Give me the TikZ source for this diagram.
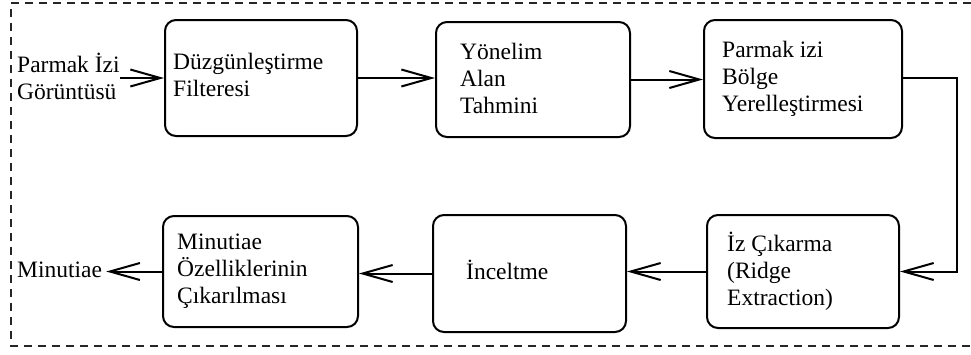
\documentclass[tikz,border=0pt]{standalone}
\usepackage{fontspec}
\newfontfamily\tnr{Liberation Serif}
\usetikzlibrary{arrows.meta}
\begin{document}
\begin{tikzpicture}[x=1pt,y=-1pt,
  box/.style={draw, line width=2pt, rounded corners=11pt, inner sep=0pt},
  txt/.style={anchor=west, align=left, inner sep=0pt, font=\tnr\fontsize{23.5}{27}\selectfont},
  arr/.style={line width=2pt, -{Straight Barb[length=30pt,width=17pt,line width=2pt]}},
  frame/.style={line width=2pt, dash pattern=on 8pt off 6pt, black!85}
]
\useasboundingbox (0,0) rectangle (971,354);
% dashed frame (open at right)
\draw[frame] (971,3) -- (11,3) -- (11,346) -- (971,346);
% boxes
\node[box, minimum width=192pt, minimum height=116pt] (b1) at (261,78) {};
\node[box, minimum width=194pt, minimum height=115pt] (b2) at (533,79.5) {};
\node[box, minimum width=198pt, minimum height=118pt] (b3) at (803,79) {};
\node[box, minimum width=195pt, minimum height=111pt] (b4) at (260.5,271.5) {};
\node[box, minimum width=193pt, minimum height=117pt] (b5) at (529.5,273.5) {};
\node[box, minimum width=192pt, minimum height=113pt] (b6) at (803,271.5) {};
% texts
\node[txt] (t1) at (173,75) {Düzgünleştirme\\Filteresi};
\node[txt] (t2) at (460,78) {Yönelim\\Alan\\Tahmini};
\node[txt] (t3) at (722,79) {Parmak izi\\Bölge\\Yerelleştirmesi};
\node[txt] (t4) at (177,271) {Minutiae\\Özelliklerinin\\Çıkarılması};
\node[txt] (t5) at (466,270) {İnceltme};
\node[txt] (t6) at (727,271) {İz Çıkarma\\(Ridge\\Extraction)};
\node[txt] (in) at (17,76) {Parmak İzi\\Görüntüsü};
\node[txt] (out) at (17,270) {Minutiae};
% connectors
\coordinate (tr) at (957,78);
\draw[arr] (b1.west -| in.east) -- (b1.west);
\draw[arr] (b1.east) -- (b1.east -| b2.west);
\draw[arr] (b2.east) -- (b2.east -| b3.west);
\draw[arr] (b3.east |- tr) -- (tr) |- (b6.east);
\draw[arr] (b6.west) -- (b6.west -| b5.east);
\draw[arr] (b5.west) -- (b5.west -| b4.east);
\draw[arr, shorten >=4pt] (b4.west) -- (b4.west -| out.east);
\end{tikzpicture}
\end{document}
